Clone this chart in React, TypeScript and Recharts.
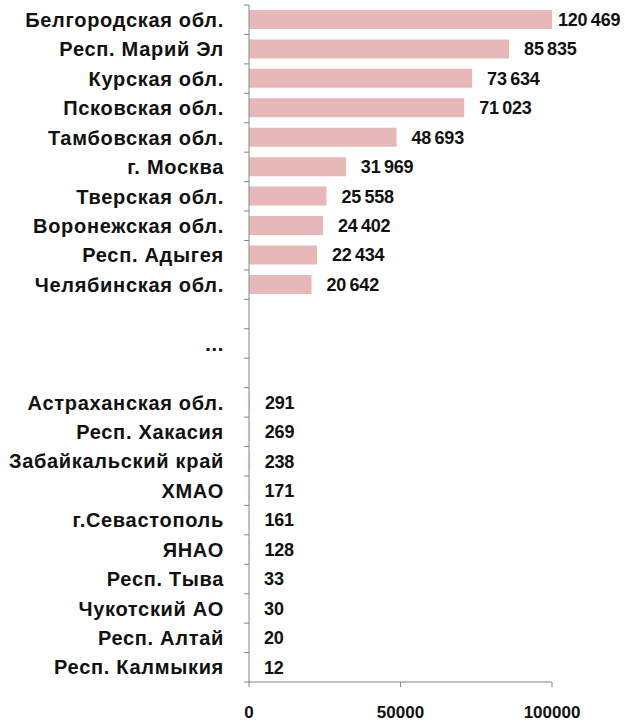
import { Bar, BarChart, LabelList, XAxis, YAxis } from "recharts";

// Regions by value; blank rows and "..." mark the skipped middle of the ranking.
const regions = [
  "Белгородская обл.",
  "Респ. Марий  Эл",
  "Курская обл.",
  "Псковская обл.",
  "Тамбовская обл.",
  "г. Москва",
  "Тверская обл.",
  "Воронежская обл.",
  "Респ. Адыгея",
  "Челябинская обл.",
  " ",
  "...",
  "  ",
  "Астраханская  обл.",
  "Респ. Хакасия",
  "Забайкальский край",
  "ХМАО",
  "г.Севастополь",
  "ЯНАО",
  "Респ. Тыва",
  "Чукотский АО",
  "Респ. Алтай",
  "Респ. Калмыкия",
];

const values: (number | null)[] = [
  120469, 85835, 73634, 71023, 48693, 31969, 25558, 24402, 22434, 20642,
  null, null, null,
  291, 269, 238, 171, 161, 128, 33, 30, 20, 12,
];

const xTicks = [0, 50000, 100000];
const X_MAX = 100000;

const WIDTH = 625;
const HEIGHT = 722;
const TOP = 5;
const X_AXIS_H = 40;
const BAND = (HEIGHT - TOP - X_AXIS_H) / regions.length;

const FONT = "'Liberation Sans', Arial, sans-serif";
const AXIS = "#868686";

const data = regions.map((name, i) => ({
  name,
  value: values[i],
  bar: values[i] == null ? null : Math.min(values[i] as number, X_MAX),
}));

const fmt = (v: number) =>
  String(v).replace(/\B(?=(\d{3})+(?!\d))/g, "\u2009");

function CategoryTick(props: any) {
  const { x, y, payload, index } = props;
  return (
    <g>
      <line x1={x - 5} x2={x} y1={y - BAND / 2} y2={y - BAND / 2} stroke={AXIS} />
      {index === regions.length - 1 && (
        <line x1={x - 5} x2={x} y1={y + BAND / 2} y2={y + BAND / 2} stroke={AXIS} />
      )}
      <text
        x={x - 25}
        y={y}
        dy="0.36em"
        textAnchor="end"
        fontFamily={FONT}
        fontSize={20}
        fontWeight="bold"
        letterSpacing={0.7}
        fill="#111"
      >
        {payload.value}
      </text>
    </g>
  );
}

function ValueLabel(props: any) {
  const { x, y, width, height, value } = props;
  if (value == null) return null;
  const clipped = value > X_MAX;
  return (
    <text
      x={x + width + (clipped ? 6 : 15)}
      y={y + height / 2}
      dy="0.36em"
      fontFamily={FONT}
      fontSize={18}
      fontWeight="bold"
      letterSpacing={-0.2}
      fill="#111"
    >
      {fmt(value)}
    </text>
  );
}

export default function App() {
  return (
    <div style={{ position: "absolute", left: 0, top: 0, background: "#fff" }}>
      <BarChart
        width={WIDTH}
        height={HEIGHT}
        data={data}
        layout="vertical"
        margin={{ top: TOP, right: 73, bottom: 0, left: 0 }}
      >
        <XAxis
          type="number"
          domain={[0, X_MAX]}
          ticks={xTicks}
          height={X_AXIS_H}
          stroke={AXIS}
          tickSize={5}
          tickMargin={19}
          tick={{ fontFamily: FONT, fontSize: 17, fontWeight: "bold", fill: "#111" }}
        />
        <YAxis
          type="category"
          dataKey="name"
          width={249}
          stroke={AXIS}
          tickLine={false}
          tickSize={0}
          tickMargin={0}
          interval={0}
          tick={<CategoryTick />}
        />
        <Bar dataKey="bar" fill="#E6B9B8" barSize={19} isAnimationActive={false}>
          <LabelList dataKey="value" content={<ValueLabel />} />
        </Bar>
      </BarChart>
    </div>
  );
}
